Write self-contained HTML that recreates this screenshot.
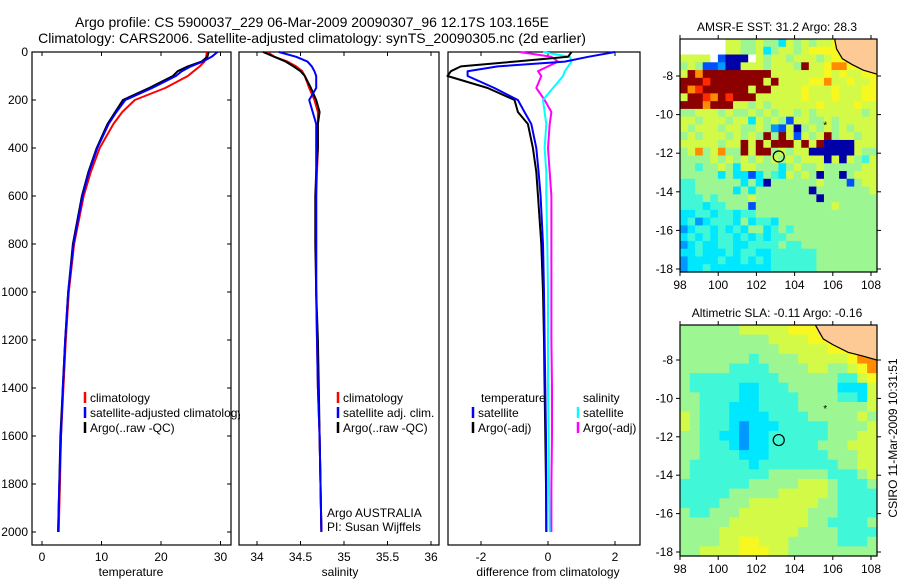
<!DOCTYPE html>
<html><head><meta charset="utf-8"><style>
html,body{margin:0;padding:0;background:#fff;}
svg{display:block;font-family:"Liberation Sans",sans-serif;}
</style></head><body>
<svg id="c" width="900" height="580" viewBox="0 0 900 580" xmlns="http://www.w3.org/2000/svg">
<defs><clipPath id="clip1"><rect x="32" y="52" width="208" height="493"/></clipPath></defs>
<text x="312" y="27" font-size="14" text-anchor="middle">Argo profile: CS 5900037_229 06-Mar-2009 20090307_96 12.17S 103.165E</text>
<text x="312" y="43" font-size="14" text-anchor="middle">Climatology: CARS2006. Satellite-adjusted climatology: synTS_20090305.nc (2d earlier)</text>
<text x="777" y="31" font-size="12" text-anchor="middle">AMSR-E SST: 31.2 Argo: 28.3</text>
<text x="777" y="317" font-size="12" text-anchor="middle">Altimetric SLA: -0.11 Argo: -0.16</text>
<text x="0" y="0" font-size="12" text-anchor="middle" transform="translate(897,438) rotate(-90)">CSIRO 11-Mar-2009 10:31:51</text>
<text x="131" y="576" font-size="12" text-anchor="middle">temperature</text>
<text x="340" y="576" font-size="12" text-anchor="middle">salinity</text>
<text x="548" y="576" font-size="12" text-anchor="middle">difference from climatology</text>
<g id="g"></g>
</svg>
<script>
const depths=[0,20,40,60,80,100,150,200,250,300,400,500,600,800,1000,1200,1400,1600,1800,2000];
const tClim=[27.7,27.6,27.3,26.5,25.5,24.5,20.7,15.6,13.5,12.0,9.7,8.2,7.0,5.4,4.5,4.0,3.6,3.2,3.0,2.8];
const tSat=[29.5,28.5,27.0,25.0,23.5,22.5,18.5,14.0,12.5,11.2,9.3,7.9,6.8,5.3,4.4,3.9,3.5,3.2,2.9,2.7];
const tArgo=[28.0,27.8,26.8,24.5,22.8,22.0,18.0,13.6,12.3,11.0,9.2,7.8,6.7,5.2,4.4,3.9,3.5,3.1,2.9,2.7];
const sClim=[34.12,34.2,34.35,34.45,34.52,34.55,34.6,34.66,34.7,34.7,34.7,34.69,34.68,34.68,34.68,34.69,34.7,34.72,34.73,34.74];
const sSat=[34.25,34.45,34.58,34.63,34.66,34.68,34.68,34.6,34.64,34.68,34.68,34.68,34.68,34.68,34.68,34.69,34.7,34.72,34.73,34.74];
const sArgo=[34.07,34.2,34.33,34.42,34.5,34.55,34.62,34.68,34.72,34.7,34.7,34.68,34.67,34.67,34.68,34.7,34.71,34.72,34.73,34.74];
const dTsat=[2.0,1.2,0.5,-1.5,-2.4,-2.4,-1.6,-0.9,-0.7,-0.5,-0.35,-0.28,-0.22,-0.15,-0.12,-0.1,-0.08,-0.06,-0.05,-0.05];
const dTargo=[0.7,0.6,-1.0,-2.6,-2.9,-3.0,-1.8,-1.0,-0.9,-0.6,-0.45,-0.35,-0.3,-0.2,-0.15,-0.12,-0.1,-0.08,-0.06,-0.05];
const dSsat=[-0.15,0.65,0.7,0.6,0.5,0.45,0.15,-0.15,-0.1,-0.05,-0.1,-0.05,-0.05,-0.02,0,0,0,0.02,0.03,0.05];
const dSargo=[-0.85,0.1,0.3,0.0,-0.3,-0.2,-0.35,-0.1,0.1,0.05,0.0,0.05,0.1,0.1,0.1,0.1,0.12,0.12,0.1,0.1];
const depthTicks=[0,200,400,600,800,1000,1200,1400,1600,1800,2000];
const tTicks=[0,10,20,30];
const sTicks=[34,34.5,35,35.5,36];
const dTicks=[-2,0,2];
const sstRows=[
"wwwwww6655655365656677LLLL",
"wwwwww6655635665677776LLLL",
"6666w1000w656656665677LLLL",
"5651120066656665A6678877LL",
"6A8AAAAAAAAA66666667676677",
"AAA9AAAAAAA6A6666778667667",
"A89AAAAAA6AA66667666766677",
"6AA98A9AAA6666667666766677",
"AAA8AAA6656566666676666766",
"55666565565656656566666656",
"66566656636565166556566666",
"65666566556521605656565666",
"56566656565A5A61656A566566",
"66666566A6A6AAA6A6A0000666",
"56856855A6AA56566000000655",
"55556565656565656660606546",
"55455653665553565565555566",
"55555353313543656505505666",
"44555555353055555565551566",
"44555553535555555055555556",
"44454555565555555505555555",
"44434455515555555555655555",
"33443443445555555555555555",
"34234443534435555555555555",
"23443434355345455555555555",
"34343443434344555555555555",
"23433443344445445555555555",
"33433343443344444455555555",
"23333433434344444455555555",
"23343333333344444455555555"];
const slaRows=[
"55555566666777LLLLLL",
"5555555556666777LLLL",
"55555555556666677LLL",
"55555554555566666788",
"55555444455556655678",
"54444444445555554467",
"54444433444555553336",
"55444433444455554436",
"55444333444455555556",
"65444333344445555565",
"65444323334444455556",
"55443323344444455566",
"55444323344444555666",
"55444433344444455566",
"54444443444444445566",
"54444444455555544456",
"44444445555566654445",
"44444555556666654444",
"44445556666666554444",
"54455566666665554444",
"55555666666665544445",
"55556666666655554444",
"55556677666555554445",
"55666677766555555555"];
const cmap={"0":"#0000a8","1":"#0050ff","2":"#0099ff","3":"#00e8ff","4":"#40f8d8","5":"#9cf692","6":"#d4fa48","7":"#f6f820","8":"#ff8c00","9":"#ff2a00","A":"#8c0000","w":"#ffffff","L":"#fdca96"};
const NS="http://www.w3.org/2000/svg";
const g=document.getElementById('g');
function mk(tag,attrs,parent){const e=document.createElementNS(NS,tag);for(const k in attrs)e.setAttribute(k,attrs[k]);(parent||g).appendChild(e);return e;}
const yTop=52,yScale=0.24;
function yD(d){return yTop+d*yScale;}
function panel(name,x0,x1){
  const fr=mk('rect',{x:x0,y:52,width:x1-x0,height:493,fill:'none',stroke:'#000','stroke-width':1.2});
  
  
}
function lineS(vals,xf,color,name,w){
  const pts=vals.map((v,i)=>xf(v).toFixed(1)+','+yD(depths[i]).toFixed(1)).join(' ');
  const p=mk('polyline',{points:pts,fill:'none',stroke:color,'stroke-width':w||2,'stroke-linejoin':'round'});
  
  
}
function xTicks(vals,xf,labels,name){
  vals.forEach((v,i)=>{
    const x=xf(v);
    mk('line',{x1:x,y1:545,x2:x,y2:541,stroke:'#000'});
    mk('line',{x1:x,y1:52,x2:x,y2:56,stroke:'#000'});
    const t=mk('text',{x:x,y:561,'font-size':12,'text-anchor':'middle'});
    t.textContent=labels[i];
    
    
  });
}
const xT=v=>42+5.95*v, xS=v=>257+87*(v-34), xDf=v=>548+33.5*v;
panel('temperature-panel',32,231);
panel('salinity-panel',239,439);
panel('difference-panel',448,640);
depthTicks.forEach(d=>{
  const y=yD(d);
  mk('line',{x1:32,y1:y,x2:36,y2:y,stroke:'#000'});
  mk('line',{x1:231,y1:y,x2:227,y2:y,stroke:'#000'});
  const t=mk('text',{x:28,y:y+4,'font-size':12,'text-anchor':'end'});
  t.textContent=String(d);
  
  
});
xTicks(tTicks,xT,tTicks.map(String),'temperature');
xTicks(sTicks,xS,sTicks.map(String),'salinity');
xTicks(dTicks,xDf,dTicks.map(String),'difference');
lineS(tClim,xT,'#ff0000','temperature-climatology-line');
lineS(tArgo,xT,'#000000','temperature-argo-line');
lineS(tSat,xT,'#0000ff','temperature-satellite-line');
lineS(sClim,xS,'#ff0000','salinity-climatology-line');
lineS(sArgo,xS,'#000000','salinity-argo-line');
lineS(sSat,xS,'#0000ff','salinity-satellite-line');
lineS(dSargo,xDf,'#ff00ff','salinity-diff-argo-line');
lineS(dSsat,xDf,'#00ffff','salinity-diff-satellite-line');
lineS(dTargo,xDf,'#000000','temperature-diff-argo-line');
lineS(dTsat,xDf,'#0000ff','temperature-diff-satellite-line');
function leg(x,y,color,label,name,clip){
  if(color){const l=mk('line',{x1:x,y1:y-10,x2:x,y2:y+1,stroke:color,'stroke-width':2.5});
  
  }
  const t=mk('text',{x:x+5,y:y,'font-size':12});
  if(clip)t.setAttribute('clip-path','url(#clip1)');
  t.textContent=label;
  
  
}
leg(85,402,'#ff0000','climatology','legend-climatology');
leg(85,417,'#0000ff','satellite-adjusted climatology','legend-satellite-adjusted',true);
leg(85,432,'#000000','Argo(..raw -QC)','legend-argo-raw');
leg(338,402,'#ff0000','climatology','legend-sal-climatology');
leg(338,417,'#0000ff','satellite adj. clim.','legend-sal-satellite');
leg(338,432,'#000000','Argo(..raw -QC)','legend-sal-argo');
leg(476,402,null,'temperature','legend-temperature-heading');
leg(578,402,null,'salinity','legend-salinity-heading');
leg(473,417,'#0000ff','satellite','legend-diff-temp-satellite');
leg(473,432,'#000000','Argo(-adj)','legend-diff-temp-argo');
leg(578,417,'#00ffff','satellite','legend-diff-sal-satellite');
leg(578,432,'#ff00ff','Argo(-adj)','legend-diff-sal-argo');
leg(322,517,null,'Argo AUSTRALIA','institution-label');
leg(322,531,null,'PI: Susan Wijffels','pi-label');
function map(name,rows,top,bottom,ncol,nrow,latLab,coastPts){
  const L=680,R=877;
  const cw=(R-L)/ncol,ch=(bottom-top)/nrow;
  rows.forEach((row,j)=>{
    for(let i=0;i<Math.min(row.length,ncol);i++){
      const c=mk('rect',{x:(L+i*cw).toFixed(2),y:(top+j*ch).toFixed(2),width:(cw+0.6).toFixed(2),height:(ch+0.6).toFixed(2),fill:cmap[row[i]]||'#9cf692'});
      
      
    }
  });
  const lx=lon=>680+(lon-98)*19.1;
  const ly=lat=>latLab.y8+(-8-lat)*latLab.s;
  // land polygon
  const landPts=coastPts.map(p=>[lx(p[0]),ly(p[1])]);
  const poly=mk('polygon',{points:landPts.map(p=>p.join(',')).join(' ')+' '+R+','+ly(coastPts[coastPts.length-1][1])+' '+R+','+top,fill:'#fdca96',stroke:'none'});
  
  
  const coast=mk('polyline',{points:landPts.map(p=>p.join(',')).join(' '),fill:'none',stroke:'#000','stroke-width':1.2});
  
  
  const f=mk('rect',{x:L,y:top,width:R-L,height:bottom-top,fill:'none',stroke:'#000','stroke-width':1.2});
  
  
  [98,100,102,104,106,108].forEach(lon=>{
    const x=lx(lon);
    mk('line',{x1:x,y1:bottom,x2:x,y2:bottom+4,stroke:'#000'});
    mk('line',{x1:x,y1:top,x2:x,y2:top-4,stroke:'#000'});
    const t=mk('text',{x:x,y:bottom+17,'font-size':12,'text-anchor':'middle'});
    t.textContent=String(lon);
    
    
  });
  [-8,-10,-12,-14,-16,-18].forEach(lat=>{
    const y=ly(lat);
    mk('line',{x1:L,y1:y,x2:L-4,y2:y,stroke:'#000'});
    mk('line',{x1:R,y1:y,x2:R+4,y2:y,stroke:'#000'});
    const t=mk('text',{x:673,y:y+4,'font-size':12,'text-anchor':'end'});
    t.textContent=String(lat);
    
    
  });
  const c=mk('circle',{cx:lx(103.17),cy:ly(-12.17),r:5.5,fill:'none',stroke:'#000','stroke-width':1.2});
  
  
  const s=mk('text',{x:lx(105.6),y:ly(-10.5)+4,'font-size':10,'text-anchor':'middle'});
  s.textContent='*';
  
  
}
const sstCoast=[[106.1,-6.1],[106.2,-6.6],[106.5,-7.1],[107.0,-7.4],[107.6,-7.7],[108.3,-7.9]];
const slaCoast=[[105.1,-6.2],[105.5,-6.9],[106.0,-7.2],[106.8,-7.6],[107.6,-7.8],[108.3,-8.0]];
map('sst-map',sstRows,39,272,26,30,{y8:76,s:19.3},sstCoast);
map('sla-map',slaRows,325,556,20,24,{y8:360,s:19.2},slaCoast);
</script>
</body></html>
